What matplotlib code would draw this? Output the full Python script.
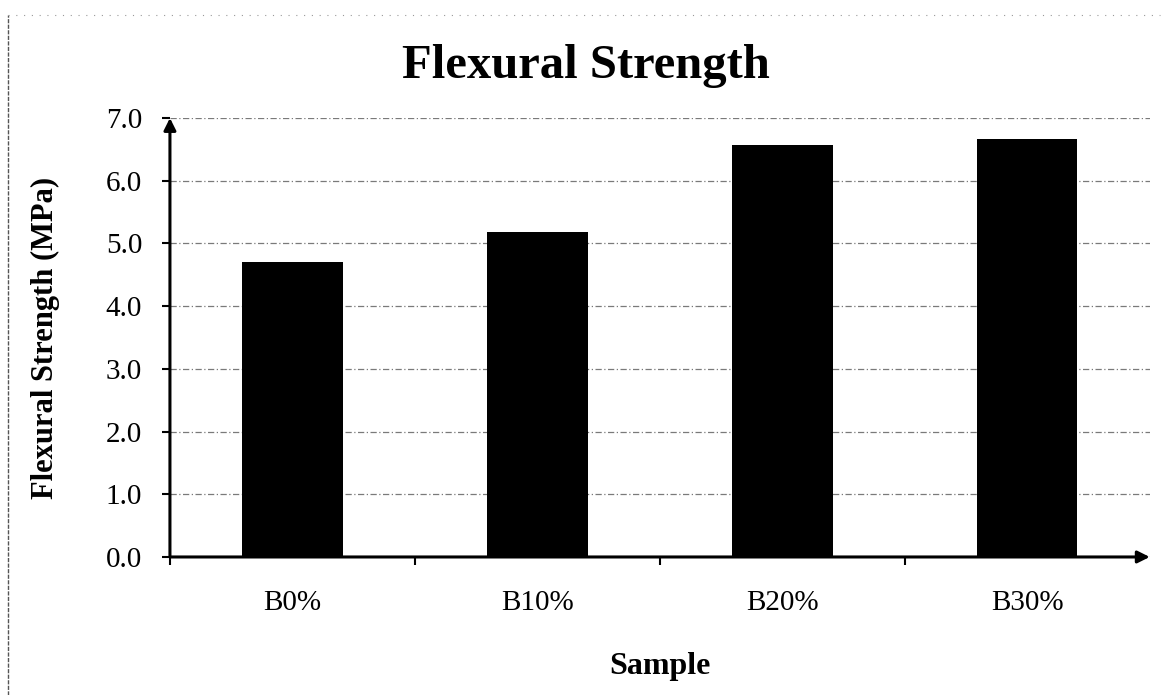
import matplotlib
matplotlib.use("Agg")
import matplotlib.pyplot as plt
from matplotlib.lines import Line2D

plt.rcParams['font.family'] = ['Liberation Serif', 'DejaVu Serif']

samples = ["B0%", "B10%", "B20%", "B30%"]
strength = [4.70, 5.18, 6.57, 6.67]
y_ticks = [0.0, 1.0, 2.0, 3.0, 4.0, 5.0, 6.0, 7.0]

fig = plt.figure(figsize=(11.72, 6.95), dpi=100)
ax = fig.add_axes([0.145, 0.1986, 0.836, 0.6316])

x = list(range(len(samples)))
ax.bar(x, strength, width=0.41, color="black", zorder=3)

ax.set_xlim(-0.5, len(samples) - 0.5)
ax.set_ylim(0, 7)
ax.set_yticks(y_ticks)
ax.set_yticklabels([f"{v:.1f}" for v in y_ticks], fontsize=21)
ax.set_xticks(x)
ax.set_xticklabels(samples, fontsize=21)
ax.tick_params(axis="x", length=0, pad=24)
ax.tick_params(axis="y", length=6, width=1.5, direction="out", pad=14)

# category boundary ticks on the x axis
ax.set_xticks([i + 0.5 for i in x[:-1]] + [-0.5], minor=True)
ax.tick_params(axis="x", which="minor", length=6, width=1.5, direction="out")

ax.grid(axis="y", color="#7a7a7a", linestyle=(0, (5, 2, 1, 2)), linewidth=0.9, zorder=0)
for s in ax.spines.values():
    s.set_visible(False)

# axes drawn as arrows
ax.annotate("", xy=(0, 1.0), xytext=(0, 0), xycoords="axes fraction",
            arrowprops=dict(arrowstyle="-|>", color="black", lw=2.2,
                            mutation_scale=18, shrinkA=0, shrinkB=0))
ax.annotate("", xy=(1.0, 0), xytext=(0, 0), xycoords="axes fraction",
            arrowprops=dict(arrowstyle="-|>", color="black", lw=2.2,
                            mutation_scale=18, shrinkA=0, shrinkB=0))

ax.set_xlabel("Sample", fontsize=23, fontweight="bold", labelpad=26)
ax.set_ylabel("Flexural Strength (MPa)", fontsize=22, fontweight="bold", labelpad=33)
fig.text(0.5, 0.905, "Flexural Strength", ha="center", va="center",
         fontsize=35, fontweight="bold")

# outer frame edges
fig.add_artist(Line2D([0.007, 0.007], [0.0, 0.978], transform=fig.transFigure,
                      color="#555555", lw=1.0, linestyle=(0, (3, 1))))
fig.add_artist(Line2D([0.007, 0.99], [0.978, 0.978], transform=fig.transFigure,
                      color="#999999", lw=0.8, linestyle=(0, (1, 6))))

fig.savefig("out.png", dpi=100)
